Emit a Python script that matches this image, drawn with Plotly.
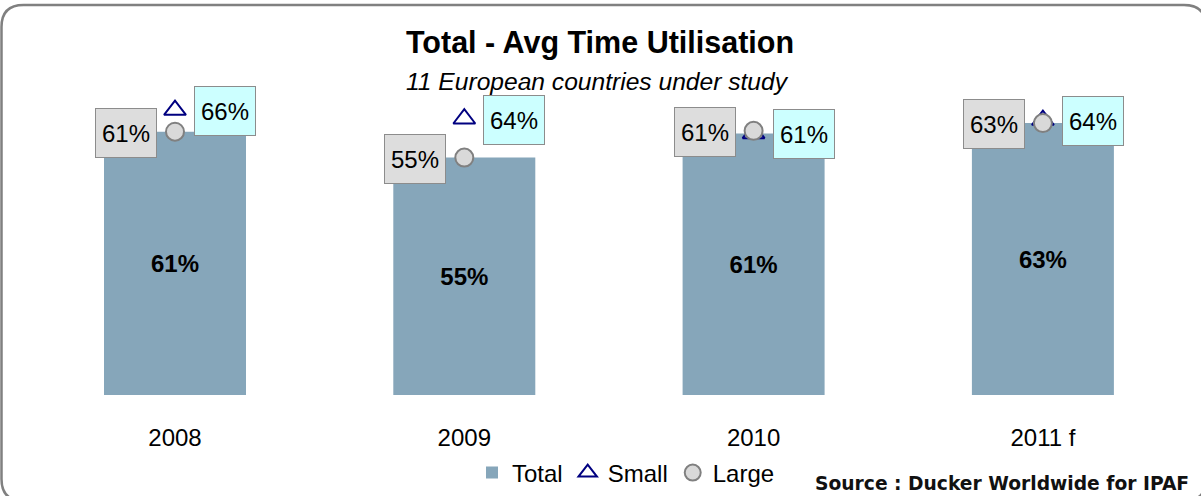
import plotly.graph_objects as go

# ---- data ----
categories = ["2008", "2009", "2010", "2011 f"]
total = [61, 55, 60.6, 63]
small = [66, 64, 60.6, 63.7]
large = [61, 55, 61.2, 63]

FONT = "Liberation Sans, Arial, sans-serif"
W, H = 1201, 496

fig = go.Figure()

fig.add_trace(go.Bar(
    x=categories, y=total, name="Total",
    marker=dict(color="#86A6BA", line=dict(width=0)),
    texttemplate="<b>%{y:.0f}%</b>", textposition="inside",
    insidetextanchor="middle", textangle=0,
    insidetextfont=dict(family=FONT, size=24, color="#000000"),
    hoverinfo="skip",
))
fig.add_trace(go.Scatter(
    x=categories, y=small, name="Small", mode="markers",
    marker=dict(symbol="triangle-up", size=19, color="rgba(255,255,255,0)",
                line=dict(color="#000080", width=2)),
    hoverinfo="skip",
))
fig.add_trace(go.Scatter(
    x=categories, y=large, name="Large", mode="markers",
    marker=dict(symbol="circle", size=18, color="#D9D9D9",
                line=dict(color="#808080", width=2)),
    hoverinfo="skip",
))

annotations = []
for i, v in enumerate(large):
    annotations.append(dict(
        x=i, y=v, xref="x", yref="y", text=f"{v:.0f}%", showarrow=False,
        xanchor="right", yanchor="middle", xshift=-18, yshift=-1,
        font=dict(family=FONT, size=24, color="#000000"),
        bgcolor="#DDDDDD", bordercolor="#8C8C8C", borderwidth=1,
        borderpad=6, width=48, height=36,
    ))
for i, v in enumerate(small):
    annotations.append(dict(
        x=i, y=v, xref="x", yref="y", text=f"{v:.0f}%", showarrow=False,
        xanchor="left", yanchor="middle", xshift=19, yshift=-1,
        font=dict(family=FONT, size=24, color="#000000"),
        bgcolor="#CCFFFF", bordercolor="#8C8C8C", borderwidth=1,
        borderpad=6, width=48, height=36,
    ))

annotations.append(dict(
    x=600 / W, y=1 - 43 / H, xref="paper", yref="paper",
    text="<b>Total - Avg Time Utilisation</b>", showarrow=False,
    xanchor="center", yanchor="middle",
    font=dict(family=FONT, size=30.5, color="#000000"),
))
annotations.append(dict(
    x=597 / W, y=1 - 81 / H, xref="paper", yref="paper",
    text="<i>11 European countries under study</i>", showarrow=False,
    xanchor="center", yanchor="middle",
    font=dict(family=FONT, size=24.6, color="#000000"),
))
annotations.append(dict(
    x=1191 / W, y=1 - 483 / H, xref="paper", yref="paper",
    text="<b>Source : Ducker Worldwide for IPAF</b>", showarrow=False,
    xanchor="right", yanchor="middle",
    font=dict(family="DejaVu Sans, sans-serif", size=18.7, color="#111111"),
))

# rounded frame (paper coords with zero margins = pixel coords / size)
x0, x1, y0, y1, r = 1.5, 1206, 5, 501, 22
def px(x):
    return x / W
def py(y):
    return 1 - y / H
path = (
    f"M {px(x0 + r)},{py(y0)} L {px(x1 - r)},{py(y0)} "
    f"Q {px(x1)},{py(y0)} {px(x1)},{py(y0 + r)} "
    f"L {px(x1)},{py(y1 - r)} Q {px(x1)},{py(y1)} {px(x1 - r)},{py(y1)} "
    f"L {px(x0 + r)},{py(y1)} Q {px(x0)},{py(y1)} {px(x0)},{py(y1 - r)} "
    f"L {px(x0)},{py(y0 + r)} Q {px(x0)},{py(y0)} {px(x0 + r)},{py(y0)} Z"
)

cat_w = 289.3
xd0 = 175 - cat_w / 2
xd1 = xd0 + 4 * cat_w
zero_px = 395
px_per_pct = (395 - 131.7) / 61

fig.update_layout(
    width=W, height=H,
    margin=dict(l=0, r=0, t=0, b=0, pad=0),
    paper_bgcolor="#FFFFFF", plot_bgcolor="rgba(0,0,0,0)",
    font=dict(family=FONT, size=24, color="#000000"),
    bargap=1 - 142 / cat_w,
    showlegend=True,
    legend=dict(orientation="h", x=626 / W, xanchor="center",
                y=1 - 473 / H, yanchor="middle",
                font=dict(family=FONT, size=24, color="#000000"),
                bgcolor="rgba(0,0,0,0)", itemwidth=30, traceorder="normal"),
    xaxis=dict(domain=[xd0 / W, xd1 / W], range=[-0.5, 3.5], type="category",
               showgrid=False, showline=False, zeroline=False, ticks="",
               tickfont=dict(family=FONT, size=24, color="#000000"),
               ticklabelstandoff=26, automargin=False, fixedrange=True),
    yaxis=dict(domain=[(H - zero_px) / H, 1], range=[0, zero_px / px_per_pct],
               visible=False, showgrid=False, zeroline=False,
               automargin=False, fixedrange=True),
    annotations=annotations,
    shapes=[dict(type="path", path=path, xref="paper", yref="paper",
                 line=dict(color="#808080", width=2.5), layer="above")],
)

fig.write_html("out.html", config={"displayModeBar": False},
               post_script="document.body.style.margin='0';document.body.style.overflow='hidden';")
